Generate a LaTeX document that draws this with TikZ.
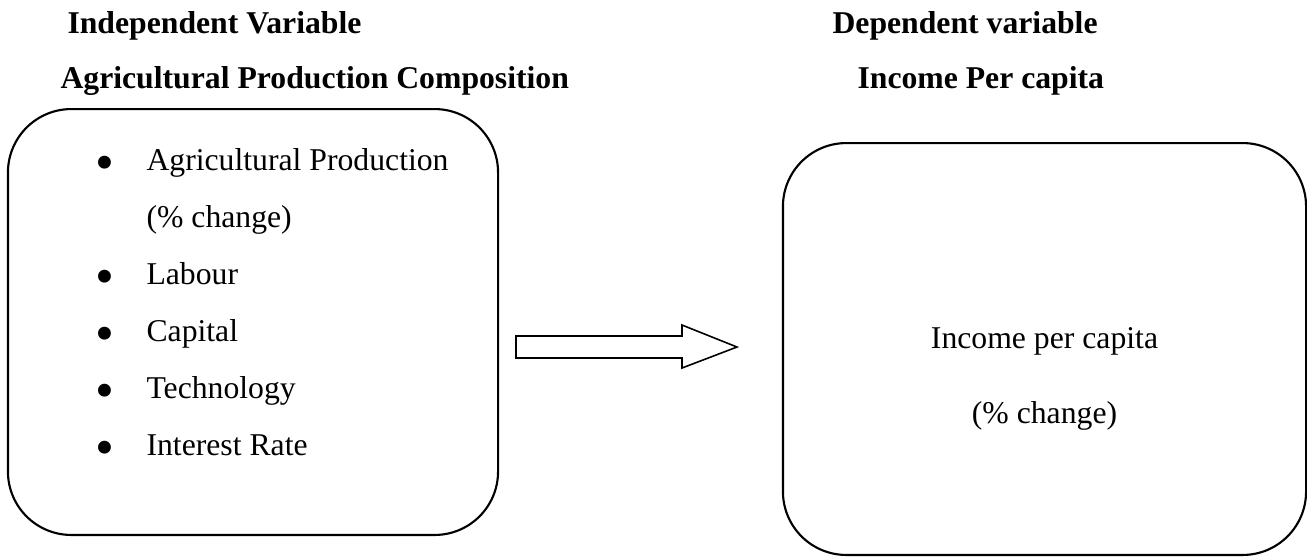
\documentclass[12pt,tikz,border=0pt]{standalone}
\usepackage{fontspec}
\setmainfont{Liberation Serif}
\usetikzlibrary{positioning}
\tikzset{panel/.style={draw,line width=0.8pt,rounded corners=24pt,inner sep=0pt}}
\tikzset{head text/.style={font=\bfseries,inner sep=0pt,anchor=base west}}
\tikzset{item text/.style={inner sep=0pt,anchor=base west}}
\tikzset{flow arrow/.style={draw,line width=0.6pt,fill=white,line join=miter}}
\newcommand{\itembullet}{\llap{\raisebox{-3.8pt}{\scalebox{1.7}{\textbullet}}\hspace{12.3pt}}}

\begin{document}
\begin{tikzpicture}[x=0.3785pt, y=-0.3785pt]
  \useasboundingbox (0,0) rectangle (1307,556);
  % headings
  \node[head text] (iv) at (67,33) {Independent Variable};
  \node[head text] (apc) at (60,88) {Agricultural Production Composition};
  \node[head text] (dv) at (832,33) {Dependent variable};
  \node[head text] (ipc) at (857,88) {Income Per capita};
  % boxes
  \node[panel, minimum width=185.5pt, minimum height=161.2pt] (indep) at (253,322) {};
  \node[panel, minimum width=198pt, minimum height=155.9pt] (dep) at (1044.5,349) {};
  % list of the independent variables
  \node[item text] (ap) at (146,170) {\itembullet Agricultural Production};
  \node[item text, below=21.6pt of ap.base west, anchor=base west] (apch) {(\% change)};
  \node[item text, below=21.6pt of apch.base west, anchor=base west] (lab) {\itembullet Labour};
  \node[item text, below=21.6pt of lab.base west, anchor=base west] (cap) {\itembullet Capital};
  \node[item text, below=21.6pt of cap.base west, anchor=base west] (tech) {\itembullet Technology};
  \node[item text, below=21.6pt of tech.base west, anchor=base west] (ir) {\itembullet Interest Rate};
  % dependent variable
  \node[inner sep=0pt, anchor=base] (inc) at (1044.5,348) {Income per capita};
  \node[inner sep=0pt, below=28.4pt of inc.base, anchor=base] (incch) {(\% change)};
  % block arrow
  \draw[flow arrow] (516,336) -- (682,336) -- (682,325) -- (737,347)
    -- (682,368) -- (682,358) -- (516,358) -- cycle;
\end{tikzpicture}
\end{document}
